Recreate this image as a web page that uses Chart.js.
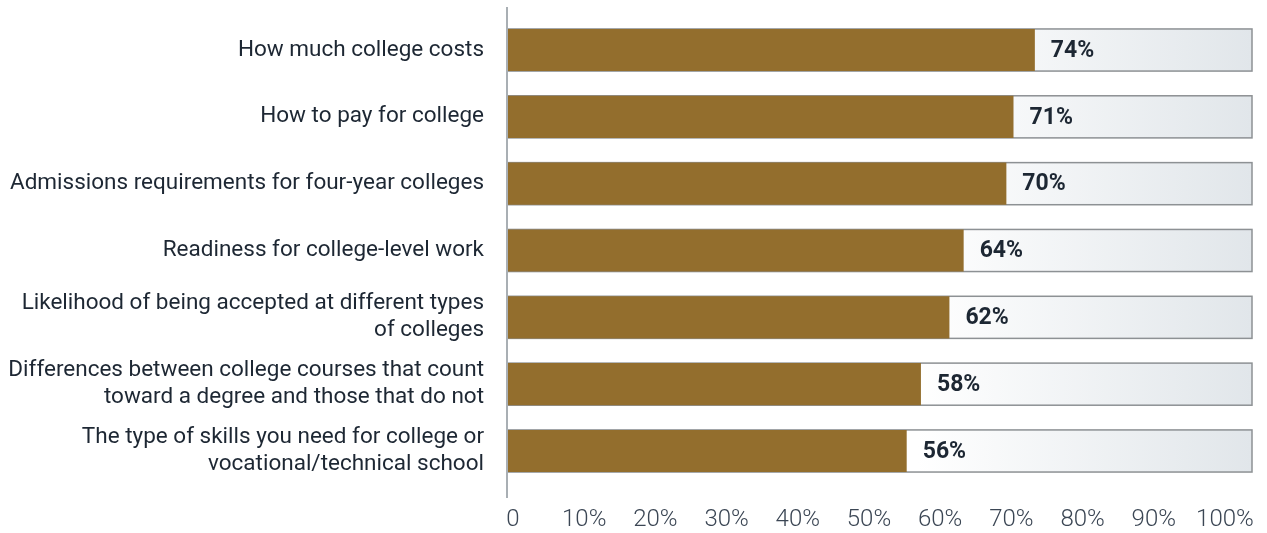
<!DOCTYPE html>
<html>
<head>
<meta charset="utf-8">
<script src="https://cdn.jsdelivr.net/npm/chart.js@4"></script>
<style>
    html, body { margin: 0; padding: 0; background: #ffffff; }
    #wrap { width: 1267px; height: 533px; }
</style>
</head>
<body>
<div id="wrap"><canvas id="topicsChart"></canvas></div>
<script>
// Topics and share of respondents
var topics = [
    'How much college costs',
    'How to pay for college',
    'Admissions requirements for four-year colleges',
    'Readiness for college-level work',
    ['Likelihood of being accepted at different types', 'of colleges'],
    ['Differences between college courses that count', 'toward a degree and those that do not'],
    ['The type of skills you need for college or', 'vocational/technical school']
];
var shares = [74, 71, 70, 64, 62, 58, 56];
var tickValues = [0, 10, 20, 30, 40, 50, 60, 70, 80, 90, 100];

var BAR_COLOR = '#936e2d';
var TEXT_COLOR = '#1d2733';
var AXIS_TEXT = '#3b4654';

/**
 * Light track behind every bar, running to the right edge of the plot.
 */
var trackPlugin = {
    id: 'track',
    beforeDatasetsDraw: function(chart) {
        var ctx = chart.ctx;
        var area = chart.chartArea;
        var x0 = chart.scales.x.getPixelForValue(0);
        chart.getDatasetMeta(0).data.forEach(function(bar) {
            var top = bar.y - bar.height / 2;
            var grad = ctx.createLinearGradient(x0, 0, area.right, 0);
            grad.addColorStop(0, '#ffffff');
            grad.addColorStop(0.55, '#ffffff');
            grad.addColorStop(1, '#e1e6ea');
            ctx.save();
            ctx.fillStyle = grad;
            ctx.fillRect(x0, top, area.right - x0, bar.height);
            ctx.strokeStyle = '#8d9194';
            ctx.lineWidth = 1.5;
            ctx.strokeRect(x0, top, area.right - x0, bar.height);
            ctx.restore();
        });
    },
    afterDatasetsDraw: function(chart) {
        var ctx = chart.ctx;
        var meta = chart.getDatasetMeta(0);
        ctx.save();
        // vertical axis line
        ctx.strokeStyle = '#a9afb4';
        ctx.lineWidth = 2;
        ctx.beginPath();
        ctx.moveTo(chart.chartArea.left - 1, 7);
        ctx.lineTo(chart.chartArea.left - 1, 498);
        ctx.stroke();
        // value labels
        ctx.fillStyle = TEXT_COLOR;
        ctx.font = 'bold 23px Roboto';
        ctx.textAlign = 'left';
        ctx.textBaseline = 'middle';
        meta.data.forEach(function(bar, i) {
            ctx.fillText(shares[i] + '%', bar.x + 16, bar.y + 1);
        });
        ctx.restore();
    }
};

new Chart(document.getElementById('topicsChart'), {
    type: 'bar',
    data: {
        labels: topics,
        datasets: [{
            data: shares,
            backgroundColor: BAR_COLOR,
            borderWidth: 0,
            barPercentage: 0.63,
            categoryPercentage: 1
        }]
    },
    options: {
        indexAxis: 'y',
        responsive: true,
        maintainAspectRatio: false,
        animation: false,
        layout: {
            padding: {top: 16.6, right: 15, left: 0, bottom: 0}
        },
        scales: {
            x: {
                min: 0,
                max: 104.5,
                afterBuildTicks: function(scale) {
                    scale.ticks = tickValues.map(function(v) {
                        return {value: v};
                    });
                },
                afterFit: function(scale) {
                    scale.height = 48.6;
                    scale.paddingLeft = 0;
                    scale.paddingRight = 0;
                },
                grid: {display: false, drawTicks: false},
                border: {display: false},
                ticks: {
                    padding: 21,
                    labelOffset: 5,
                    maxRotation: 0,
                    autoSkip: false,
                    color: AXIS_TEXT,
                    font: {family: 'Roboto', size: 24, weight: '300'},
                    callback: function(value) {
                        return value === 0 ? '0' : value + '%';
                    }
                }
            },
            y: {
                afterFit: function(scale) {
                    scale.width = 508;
                    scale.paddingTop = 0;
                    scale.paddingBottom = 0;
                },
                grid: {display: false, drawTicks: false},
                border: {display: false},
                ticks: {
                    padding: 24,
                    color: TEXT_COLOR,
                    font: {family: 'Roboto', size: 22.5, lineHeight: 1.2}
                }
            }
        },
        plugins: {
            legend: {display: false},
            tooltip: {enabled: false}
        }
    },
    plugins: [trackPlugin]
});
</script>
</body>
</html>
